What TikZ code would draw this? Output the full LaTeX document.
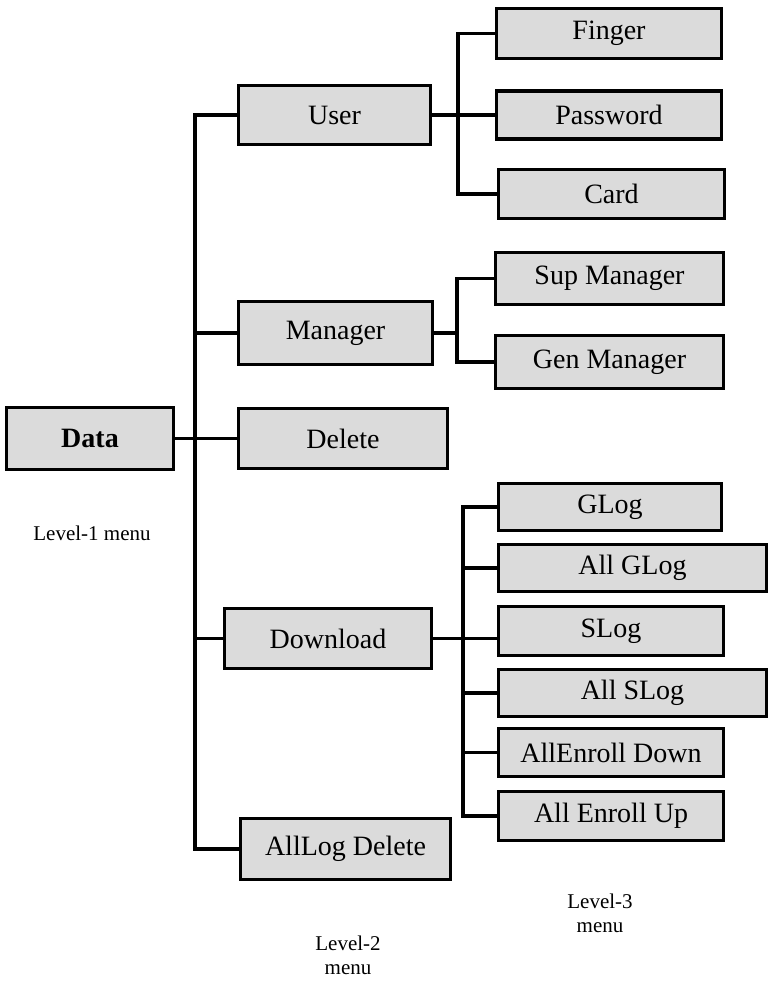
\documentclass[tikz,border=0pt]{standalone}
\usepackage{fontspec}
\setmainfont{Liberation Serif}
\usepackage{tikz}
\usetikzlibrary{positioning}

\begin{document}
\begin{tikzpicture}[x=1pt,y=-1pt,
    menubox/.style={draw=black,line width=3.8pt,fill=gray!28,inner sep=0pt,
        font=\fontsize{28}{30}\selectfont},
    link/.style={line width=3.2pt},
    levelnote/.style={align=center,font=\fontsize{21}{24}\selectfont}]
        \useasboundingbox (0,0) rectangle (770,981);
        % level 1
        \node[menubox,minimum width=167,minimum height=62,font=\fontsize{28}{30}\selectfont\bfseries] (data) at (90,438.5) {Data};
        % level 2
        \node[menubox,minimum width=192,minimum height=59] (user) at (334.5,115) {User};
        \node[menubox,minimum width=194,minimum height=63] (manager) at (335.5,333) {Manager};
        \node[menubox,minimum width=209,minimum height=60] (delete) at (343,438.5) {Delete};
        \node[menubox,minimum width=207,minimum height=60] (download) at (328,638.5) {Download};
        \node[menubox,minimum width=210,minimum height=61] (alllog) at (345.5,849) {AllLog Delete};
        % level 3
        \node[menubox,minimum width=225,minimum height=50] (finger) at (609,33.5) {Finger};
        \node[menubox,minimum width=225,minimum height=48] (password) at (609,115) {Password};
        \node[menubox,minimum width=226,minimum height=49] (card) at (611.5,194) {Card};
        \node[menubox,minimum width=228,minimum height=52] (supman) at (609.5,278.5) {Sup Manager};
        \node[menubox,minimum width=228,minimum height=53] (genman) at (609.5,362) {Gen Manager};
        \node[menubox,minimum width=223,minimum height=47] (glog) at (610,507) {GLog};
        \node[menubox,minimum width=268,minimum height=47] (allglog) at (632.5,568) {All GLog};
        \node[menubox,minimum width=225,minimum height=49] (slog) at (611,631) {SLog};
        \node[menubox,minimum width=268,minimum height=47] (allslog) at (632.5,693) {All SLog};
        \node[menubox,minimum width=225,minimum height=48] (alldown) at (611,752.5) {AllEnroll Down};
        \node[menubox,minimum width=225,minimum height=49] (allup) at (611,816) {All Enroll Up};
        % trunks
        \coordinate (ttwo) at (195,500);
        \coordinate (tuser) at (458,100);
        \coordinate (tman) at (457,320);
        \coordinate (tdown) at (463,650);
        \draw[link] (user.west) -| (ttwo) |- (alllog.west);
        \draw[link] (data.east) -- (delete.west);
        \draw[link] (ttwo |- manager.west) -- (manager.west);
        \draw[link] (ttwo |- download.west) -- (download.west);
        \draw[link] (finger.west) -| (tuser) |- (card.west);
        \draw[link] (user.east) -- (password.west);
        \draw[link] (supman.west) -| (tman) |- (genman.west);
        \draw[link] (manager.east) -- (tman |- manager.east);
        \draw[link] (glog.west) -| (tdown) |- (allup.west);
        \foreach \n in {allglog,allslog,alldown}{
            \draw[link] (tdown |- \n.west) -- (\n.west);
        }
        \draw[link] (download.east) -- (download.east -| slog.west);
        % level notes
        \node[levelnote] (note1) at (92,533) {Level-1 menu};
        \node[levelnote] (note2) at (348,955) {Level-2\\menu};
        \node[levelnote] (note3) at (600,913) {Level-3\\menu};
\end{tikzpicture}
\end{document}
